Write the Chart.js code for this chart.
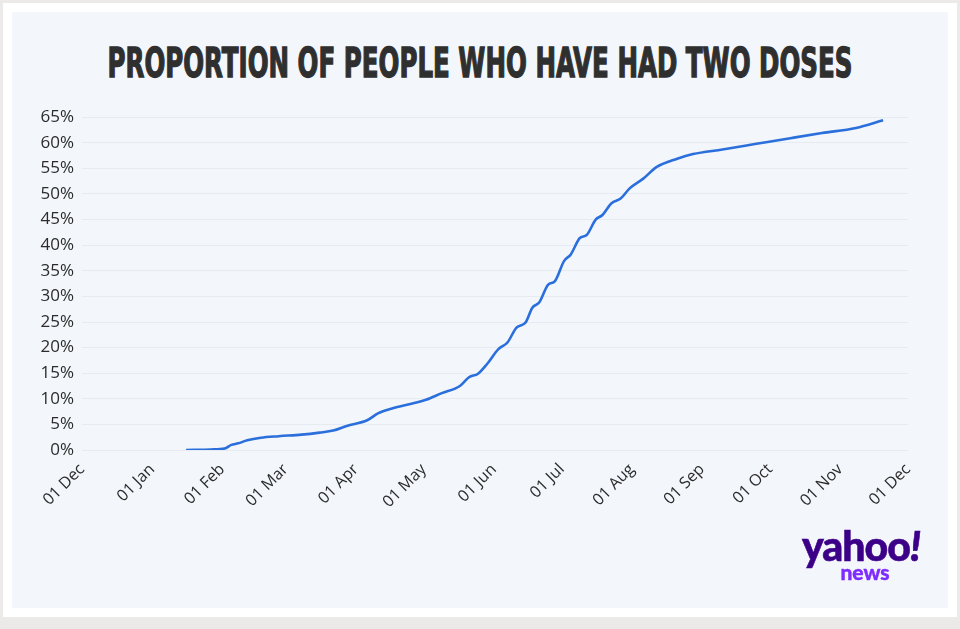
<!DOCTYPE html>
<html>
<head>
<meta charset="utf-8">
<script src="https://cdn.jsdelivr.net/npm/chart.js@4"></script>
<style>
    html, body {
        margin: 0;
        padding: 0;
        width: 960px;
        height: 629px;
        background: #ece9e9;
        overflow: hidden;
    }
    .card {
        position: absolute;
        left: 3px;
        top: 3px;
        width: 954px;
        height: 614px;
        background: #ffffff;
    }
    .panel {
        position: absolute;
        left: 12px;
        top: 12px;
        width: 936px;
        height: 596px;
        background: #f3f6fa;
    }
    .title {
        position: absolute;
        left: 480px;
        top: 43px;
        font-family: "DejaVu Sans Condensed", "DejaVu Sans", sans-serif;
        font-weight: 700;
        font-size: 41px;
        line-height: 41px;
        color: #2f2f2f;
        white-space: nowrap;
        -webkit-text-stroke: 1.3px #2f2f2f;
        transform-origin: left top;
    }
    .chart-wrap {
        position: absolute;
        left: 0;
        top: 99px;
        width: 960px;
        height: 426px;
    }
    .logo {
        position: absolute;
        left: 798px;
        top: 526px;
        width: 126px;
        text-align: center;
        font-family: Lato, "DejaVu Sans", sans-serif;
        font-weight: 900;
        white-space: nowrap;
    }
    .logo .yahoo {
        display: block;
        font-size: 41px;
        line-height: 40px;
        color: #3c0088;
        letter-spacing: -1px;
        -webkit-text-stroke: 0.6px #3c0088;
    }
    .logo .yahoo i {
        font-style: italic;
    }
    .logo .news {
        display: block;
        font-size: 21px;
        line-height: 16px;
        color: #7e2cff;
        margin-top: -2px;
        padding-left: 8px;
        -webkit-text-stroke: 0.4px #7e2cff;
    }
</style>
</head>
<body>
<div class="card"></div>
<div class="panel"></div>
<div class="title" id="titleText">PROPORTION OF PEOPLE WHO HAVE HAD TWO DOSES</div>
<div class="chart-wrap"><canvas id="doseChart"></canvas></div>
<div class="logo"><span class="yahoo">yahoo<i>!</i></span><span class="news">news</span></div>

<script>
// Data: date, share of people with two doses (%)
const doseDates = [
    '2021-01-16', '2021-01-27', '2021-02-02', '2021-02-05', '2021-02-08',
    '2021-02-12', '2021-02-18', '2021-02-26', '2021-03-08', '2021-03-16',
    '2021-03-22', '2021-03-28', '2021-04-06', '2021-04-11', '2021-04-17',
    '2021-04-26', '2021-05-02', '2021-05-09', '2021-05-17', '2021-05-21',
    '2021-05-25', '2021-05-29', '2021-06-03', '2021-06-07', '2021-06-11',
    '2021-06-15', '2021-06-18', '2021-06-21', '2021-06-25', '2021-06-28',
    '2021-07-02', '2021-07-05', '2021-07-09', '2021-07-12', '2021-07-16',
    '2021-07-19', '2021-07-23', '2021-07-27', '2021-07-31', '2021-08-06',
    '2021-08-12', '2021-08-21', '2021-08-28', '2021-09-10', '2021-09-25',
    '2021-10-10', '2021-10-24', '2021-11-08', '2021-11-20'
];
const dosePct = [
    0.0, 0.1, 0.3, 1.0, 1.3,
    1.9, 2.4, 2.7, 3.0, 3.4,
    3.8, 4.7, 5.8, 7.2, 8.1,
    9.1, 9.8, 11.1, 12.5, 14.2,
    14.9, 16.8, 19.7, 21.0, 23.9,
    24.9, 27.8, 28.8, 32.3, 33.0,
    36.9, 38.2, 41.4, 42.0, 45.0,
    45.9, 48.2, 49.1, 51.1, 53.0,
    55.3, 56.9, 57.8, 58.7, 59.8,
    60.9, 61.9, 62.9, 64.4
];

// X axis ticks
const monthStarts = [
    '2020-12-01', '2021-01-01', '2021-02-01', '2021-03-01', '2021-04-01',
    '2021-05-01', '2021-06-01', '2021-07-01', '2021-08-01', '2021-09-01',
    '2021-10-01', '2021-11-01', '2021-12-01'
];
const monthLabels = [
    '01 Dec', '01 Jan', '01 Feb', '01 Mar', '01 Apr', '01 May', '01 Jun',
    '01 Jul', '01 Aug', '01 Sep', '01 Oct', '01 Nov', '01 Dec'
];

// Y axis ticks
const yTicks = [0, 5, 10, 15, 20, 25, 30, 35, 40, 45, 50, 55, 60, 65];

const DAY = 24 * 3600 * 1000;
const origin = Date.parse(monthStarts[0] + 'T00:00:00Z');
function dayOffset(d) {
    return Math.round((Date.parse(d + 'T00:00:00Z') - origin) / DAY);
}
const monthDays = monthStarts.map(dayOffset);

// Squeeze the title to the condensed width of the original, centred on the page
function fitTitle() {
    const el = document.getElementById('titleText');
    const w = el.getBoundingClientRect().width;
    const target = 745;
    el.style.transform = 'translateX(' + (-target / 2) + 'px) scaleX(' + (target / w) + ')';
}

function buildChart() {
    const points = doseDates.map((d, i) => ({ x: dayOffset(d), y: dosePct[i] }));
    const fontFamily = '"Open Sans", "Noto Sans", sans-serif';

    const ctx = document.getElementById('doseChart').getContext('2d');
    window.doseChart = new Chart(ctx, {
        type: 'line',
        data: {
            datasets: [{
                label: 'Two doses',
                data: points,
                borderColor: '#2a6fdc',
                borderWidth: 2.6,
                pointRadius: 0,
                fill: false,
                cubicInterpolationMode: 'monotone'
            }]
        },
        options: {
            responsive: true,
            maintainAspectRatio: false,
            animation: false,
            layout: {
                padding: { top: 10, right: 52, left: 0, bottom: 0 }
            },
            plugins: {
                legend: { display: false },
                tooltip: { enabled: false }
            },
            scales: {
                x: {
                    type: 'linear',
                    min: monthDays[0],
                    max: monthDays[monthDays.length - 1],
                    afterBuildTicks: scale => {
                        scale.ticks = monthDays.map(v => ({ value: v }));
                    },
                    afterFit: scale => { scale.height = 75; },
                    grid: { display: false },
                    border: { display: false },
                    ticks: {
                        autoSkip: false,
                        minRotation: 45,
                        maxRotation: 45,
                        padding: 2,
                        color: '#2b2b2b',
                        font: { family: fontFamily, size: 16 },
                        callback: (value, index) => monthLabels[index]
                    }
                },
                y: {
                    min: 0,
                    max: 65,
                    afterBuildTicks: scale => {
                        scale.ticks = yTicks.map(v => ({ value: v }));
                    },
                    afterFit: scale => { scale.width = 82; },
                    grid: {
                        color: '#e6ebf2',
                        lineWidth: 1,
                        drawTicks: false
                    },
                    border: { display: false },
                    ticks: {
                        padding: 8,
                        color: '#2b2b2b',
                        font: { family: fontFamily, size: 17 },
                        callback: value => value + '%'
                    }
                }
            }
        }
    });
}

document.addEventListener('DOMContentLoaded', function() {
    fitTitle();
    buildChart();
});
</script>
</body>
</html>
